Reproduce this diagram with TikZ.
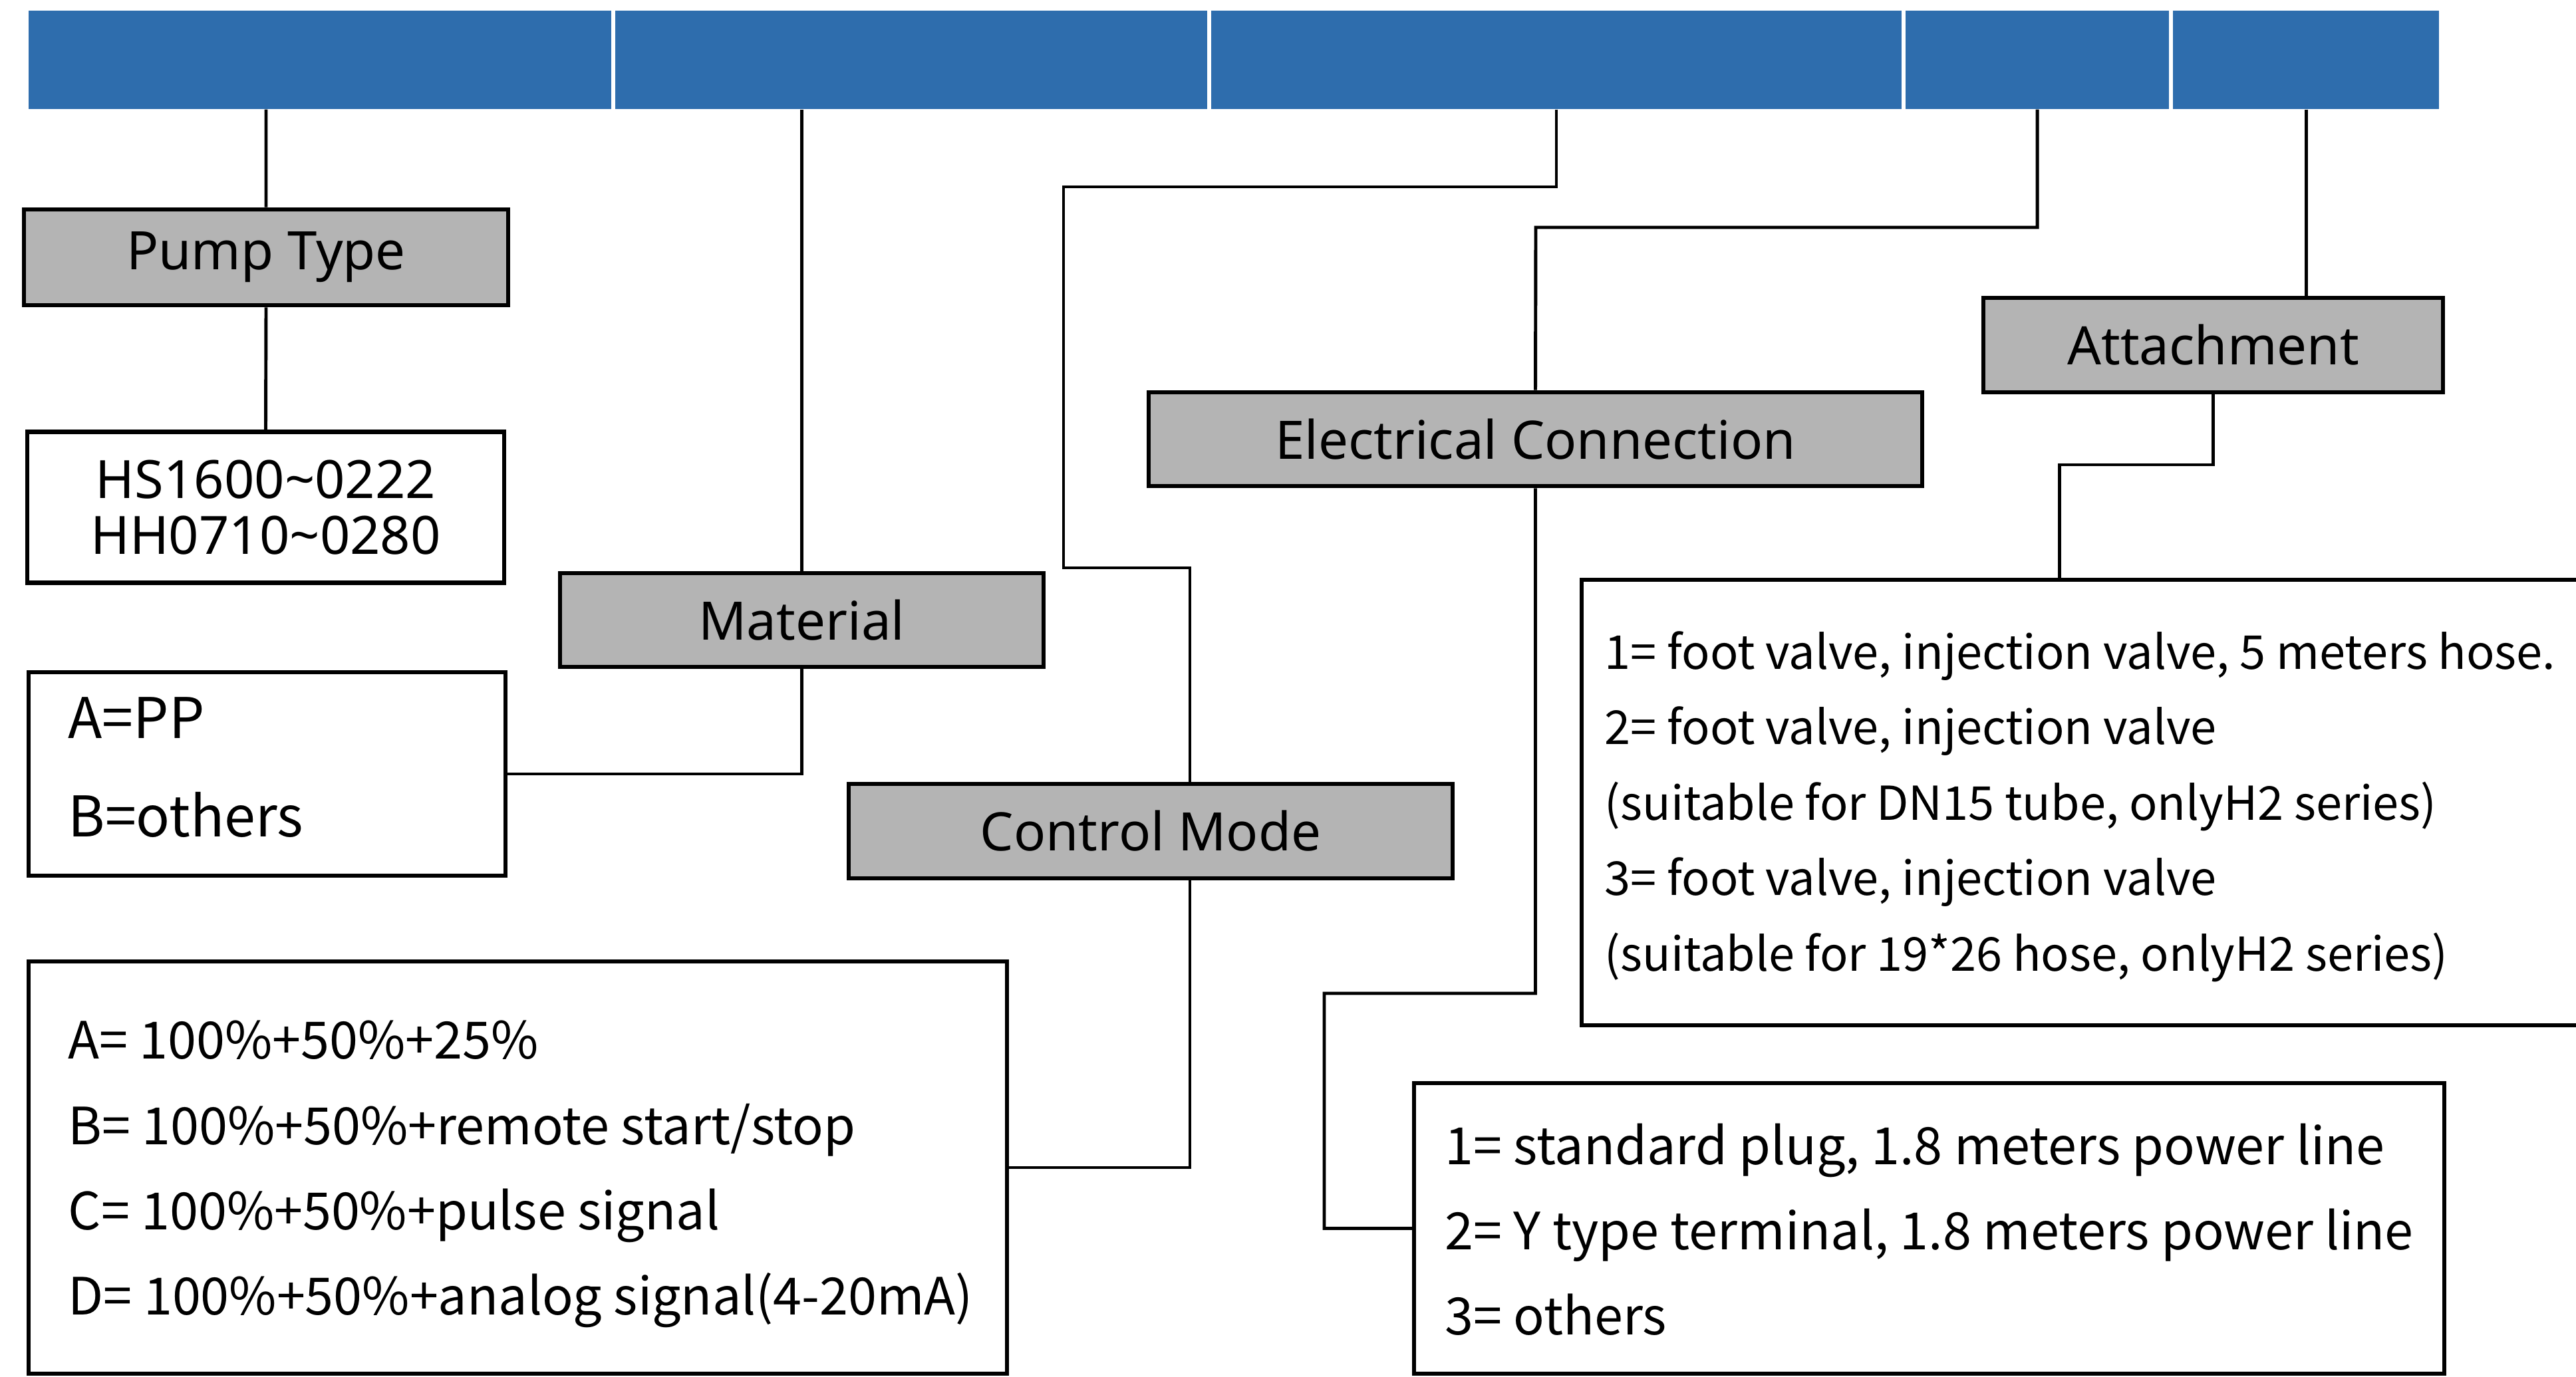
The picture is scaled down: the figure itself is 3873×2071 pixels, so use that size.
\documentclass[tikz,border=0pt]{standalone}
\usepackage{fontspec}
\setmainfont{Noto Sans CJK SC}
\newfontfamily\headfont{Noto Sans}
\usetikzlibrary{positioning}
\definecolor{barblue}{RGB}{46,109,173}
\definecolor{headgray}{RGB}{180,180,180}
\tikzset{
bar/.style={fill=barblue, minimum height=14.8mm, inner sep=0pt}, % one blue field of the code bar
head/.style={draw, line width=1.9pt, fill=headgray, inner sep=0pt, font=\headfont\fontsize{22.7}{26}\selectfont}, % gray title boxes
optbox/.style={draw, line width=1.8pt, fill=white, inner sep=0pt}, % white boxes listing the options
opttext/.style={anchor=west, align=left, inner sep=0pt, font=\fontsize{22}{36.5}\selectfont}, % the option lines
link/.style={line width=1.4pt}, % plain connectors
}

\begin{document}
\begin{tikzpicture}[x=0.1mm, y=-0.1mm]
        \path[fill=white, use as bounding box] (0,0) rectangle (3873,2071);

        % code bar
        \foreach \name/\l/\r in {b1/43/919, b2/925/1815, b3/1821/2859, b4/2865/3261, b5/3267/3667}
            \node[bar, minimum width={(\r-\l)*0.1mm}] (\name) at ({(\l+\r)/2},90) {};

        % titles
        \node[head, minimum width=72.8mm, minimum height=14.4mm] (pump) at (400,387) {Pump Type};
        \node[head, minimum width=72.7mm, minimum height=14.1mm] (mat) at (1205.5,932.5) {Material};
        \node[head, minimum width=90.8mm, minimum height=14.2mm] (ctrl) at (1730,1250) {Control Mode};
        \node[head, minimum width=116.3mm, minimum height=14.1mm] (elec) at (2308.5,660.5) {Electrical Connection};
        \node[head, minimum width=69.1mm, minimum height=14.2mm] (att) at (3327.5,519) {Attachment};

        % options
        \node[optbox, align=center, minimum width=71.7mm, minimum height=22.7mm,
              font=\headfont\fontsize{22.6}{24}\selectfont] (hs) at (399.5,763)
              {HS1600\textasciitilde0222\\HH0710\textasciitilde0280};
        \node[optbox, minimum width=71.7mm, minimum height=30.6mm] (ab) at (401.5,1164) {};
        \node[optbox, minimum width=147.1mm, minimum height=62mm] (cm) at (778.5,1756) {};
        \node[optbox, minimum width=154.9mm, minimum height=43.7mm] (ec) at (2900.5,1847.5) {};
        \node[optbox, minimum width=152mm, minimum height=67mm] (at) at (3138,1207) {};

        \node[opttext, font=\fontsize{24}{42}\selectfont] (abtext) at (102,1154)
              {A=PP\\B=others};
        \node[opttext] (cmtext) at (102,1766)
              {A= 100\%+50\%+25\%\\
               B= 100\%+50\%+remote start/stop\\
               C= 100\%+50\%+pulse signal\\
               D= 100\%+50\%+analog signal(4-20mA)};
        \node[opttext] (ectext) at (2172,1849)
              {1= standard plug, 1.8 meters power line\\
               2= Y type terminal, 1.8 meters power line\\
               3= others};
        \node[opttext, font=\fontsize{20}{32.3}\selectfont] (attext) at (2412,1213)
              {1= foot valve, injection valve, 5 meters hose.\\
               2= foot valve, injection valve\\
               (suitable for DN15 tube, onlyH2 series)\\
               3= foot valve, injection valve\\
               (suitable for 19*26 hose, onlyH2 series)};

        % bends
        \coordinate (ck1) at (1599,281);
        \coordinate (ck2) at (1789,854);
        \coordinate (ek1) at (2309,342);
        \coordinate (ek2) at (1991,1494);
        \coordinate (ak1) at (3096,699);

        \draw[link] (pump.north |- b1.south) -- (pump.north)
              (pump.south) -- (hs.north);
        \draw[link] (mat.north |- b2.south) -- (mat.north)
              (mat.south) |- (ab.east);
        \draw[link] (b3.south) |- (ck1) |- (ck2) -- (ck2 |- ctrl.north)
              (ck2 |- ctrl.south) |- (cm.east);
        \draw[link] (b4.south) |- (ek1) -- (elec.north)
              (elec.south) |- (ek2) |- (ec.west);
        \draw[link] (b5.south) -- (b5.south |- att.north)
              (att.south) |- (ak1) -- (ak1 |- at.north);
      \end{tikzpicture}
\end{document}
